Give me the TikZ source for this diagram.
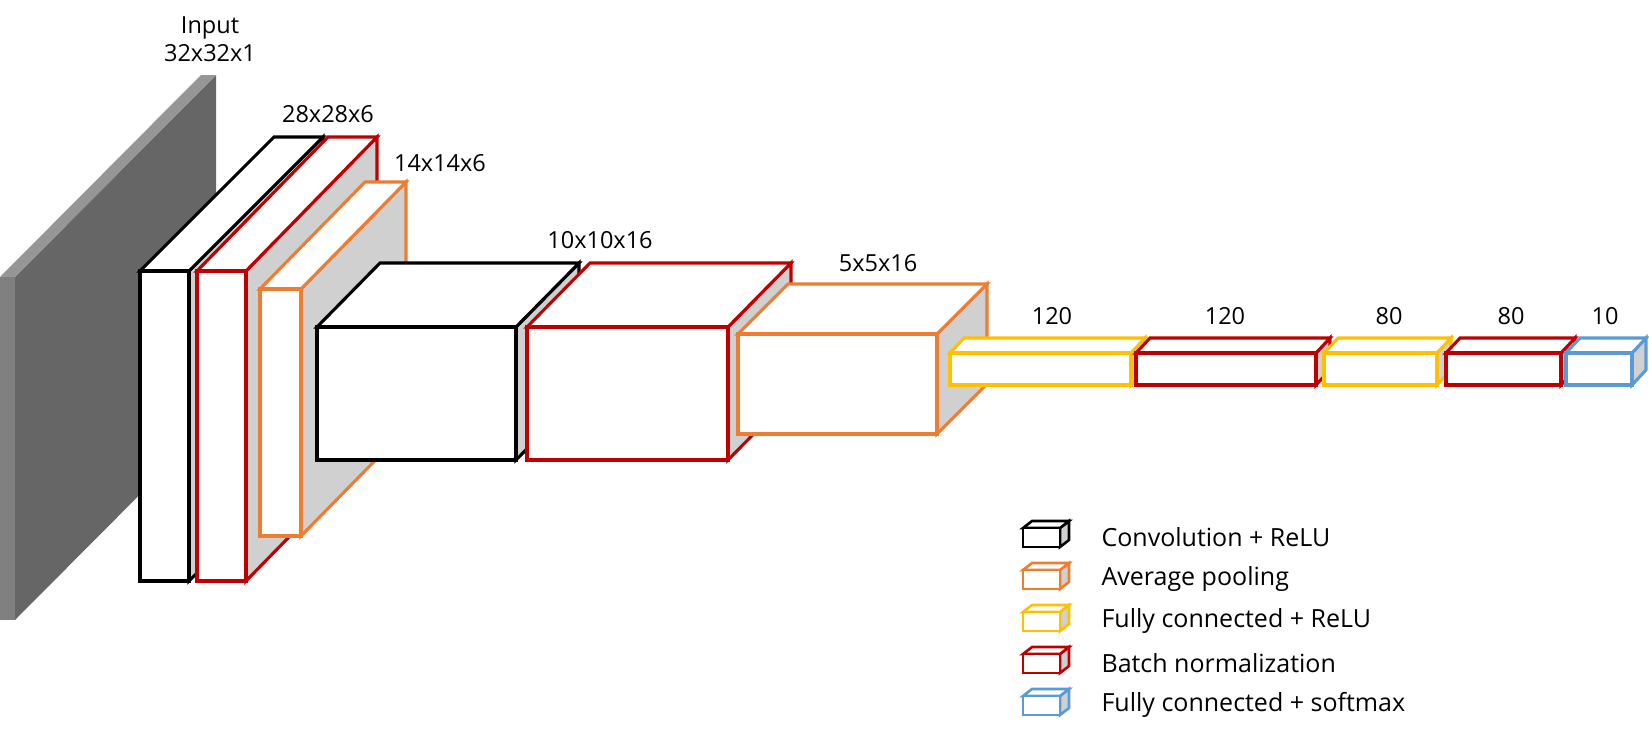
\documentclass[tikz,border=0pt]{standalone}
\usepackage{fontspec}
\setmainfont{Open Sans}
\usetikzlibrary{calc,positioning}
\definecolor{convColor}{RGB}{0,0,0}
\definecolor{bnColor}{RGB}{192,0,0}
\definecolor{poolColor}{RGB}{237,125,49}
\definecolor{fcColor}{RGB}{255,192,0}
\definecolor{outColor}{RGB}{91,155,213}
\definecolor{sideColor}{RGB}{208,208,208}
\definecolor{slabFront}{RGB}{128,128,128}
\definecolor{slabSide}{RGB}{102,102,102}
\definecolor{slabTop}{RGB}{150,150,150}
\newcommand{\diagfont}{\fontsize{23.5}{28}\selectfont}
\newcommand{\legendfont}{\fontsize{25}{28}\selectfont}
% #1 colour, #2 #3 front top-left, #4 width, #5 height, #6 #7 depth offset
\newcommand{\layerblock}[7]{%
  \draw[#1, fill=sideColor] ({#2+#4},{#3}) -- ({#2+#4+#6},{#3-#7}) -- ({#2+#4+#6},{#3+#5-#7}) -- ({#2+#4},{#3+#5}) -- cycle;
  \draw[#1, fill=white] ({#2},{#3}) -- ({#2+#6},{#3-#7}) -- ({#2+#4+#6},{#3-#7}) -- ({#2+#4},{#3}) -- cycle;
  \draw[#1, fill=white] ({#2},{#3}) rectangle ({#2+#4},{#3+#5});
}

\begin{document}
\begin{tikzpicture}[
    x=1pt, y=-1pt,
    lbl/.style={font=\diagfont, align=center, inner sep=0pt},
    legtext/.style={font=\legendfont, anchor=west, inner sep=0pt},
    every path/.style={line width=3.1pt}
  ]
  \useasboundingbox (0,0) rectangle (1649,734);

  % input slab
  \fill[slabSide] (15,277) -- (216,75) -- (216,418) -- (15,620) -- cycle;
  \fill[slabTop] (0,277) -- (201,75) -- (216,75) -- (15,277) -- cycle;
  \fill[slabFront] (0,277) rectangle (15,620);
  \node[lbl] (inlbl) at (210,39) {Input\\32x32x1};

  % feature extraction
  \layerblock{convColor}{140}{271}{49}{310}{134}{134}
  \layerblock{bnColor}{197}{271}{49}{310}{131}{134}
  \layerblock{poolColor}{260}{289}{41}{247}{105}{107}
  \layerblock{convColor}{317}{327}{199}{133}{63}{64}
  \layerblock{bnColor}{527}{327}{201}{133}{63}{64}
  \layerblock{poolColor}{738}{334}{199}{100}{50}{50}
  \node[lbl] (c1lbl) at (328,114) {28x28x6};
  \node[lbl] (p1lbl) at (440,163) {14x14x6};
  \node[lbl] (c2lbl) at (600,240) {10x10x16};
  \node[lbl] (p2lbl) at (878,263) {5x5x16};

  % classifier
  \layerblock{fcColor}{950}{353}{181}{32}{14}{15}
  \layerblock{bnColor}{1136}{353}{180}{32}{14}{15}
  \layerblock{fcColor}{1324}{353}{113}{32}{14}{15}
  \layerblock{bnColor}{1446}{353}{115}{32}{14}{15}
  \layerblock{outColor}{1566}{353}{66}{32}{14}{15}
  \node[lbl] (f1lbl) at (1052,316) {120};
  \node[lbl] (b3lbl) at (1225,316) {120};
  \node[lbl] (f2lbl) at (1389,316) {80};
  \node[lbl] (b4lbl) at (1511,316) {80};
  \node[lbl] (outlbl) at (1605,316) {10};

  % legend
  \begin{scope}[every path/.style={line width=2.6pt}]
    \layerblock{convColor}{1023}{528}{37}{19}{9}{7}
    \layerblock{poolColor}{1023}{570}{37}{19}{9}{7}
    \layerblock{fcColor}{1023}{612}{37}{19}{9}{7}
    \layerblock{bnColor}{1023}{654}{37}{19}{9}{7}
    \layerblock{outColor}{1023}{696}{37}{19}{9}{7}
  \end{scope}
  \node[legtext] (legconv) at (1100,537) {Convolution + ReLU};
  \node[legtext] (legpool) at (1100,579) {Average pooling};
  \node[legtext] (legfc) at (1100,621) {Fully connected + ReLU};
  \node[legtext] (legbn) at (1100,663) {Batch normalization};
  \node[legtext] (legout) at (1100,705) {Fully connected + softmax};
\end{tikzpicture}
\end{document}
